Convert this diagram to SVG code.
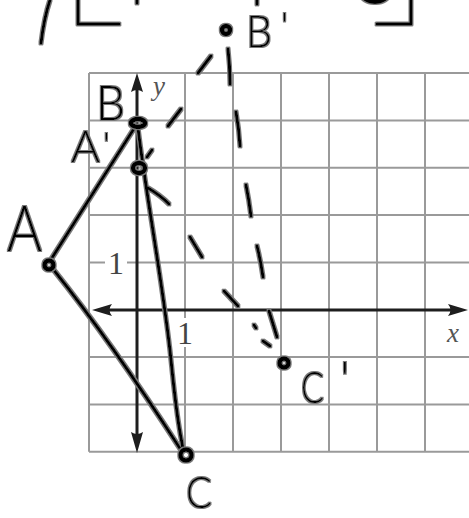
<svg xmlns="http://www.w3.org/2000/svg" width="469" height="518" viewBox="0 0 469 518">
<style>
.grid{stroke:#9a9a9a;stroke-width:2;fill:none}
.axis{stroke:#1e1e1e;stroke-width:3;fill:none}
.arrow{fill:#1e1e1e}
.ink{stroke:#000;stroke-width:3;fill:none;stroke-linecap:round;stroke-linejoin:round}
.dot{stroke:#000;stroke-width:4.5;fill:none}
.hand{font-family:"Lato","Open Sans","Liberation Sans",sans-serif;font-weight:300;fill:#000}
.num{font-family:"Liberation Serif","DejaVu Serif",serif;fill:#444;font-size:32px}
.var{font-family:"Liberation Serif","DejaVu Serif",serif;font-style:italic;fill:#555;font-size:27px}
.bg{fill:#fff}
</style>
<defs>
<filter id="halo" filterUnits="userSpaceOnUse" x="0" y="0" width="469" height="518">
<feMorphology in="SourceAlpha" operator="dilate" radius="1.3" result="d"/>
<feGaussianBlur in="d" stdDeviation="0.5" result="b"/>
<feFlood flood-color="#7a7a7a"/>
<feComposite in2="b" operator="in" result="g"/>
<feMerge><feMergeNode in="g"/><feMergeNode in="SourceGraphic"/></feMerge>
</filter>
</defs>
<rect width="469" height="518" fill="#fff"/>
<g id="grid">
<path class="grid" d="M89,73H469M89,120.4H469M89,167.7H469M89,215H469M89,262.4H469M89,357.1H469M89,404.5H469M89,451.8H469"/>
<path class="grid" d="M89,73V451.8M185,73V451.8M233,73V451.8M281,73V451.8M329,73V451.8M377,73V451.8M425,73V451.8"/>
</g>
<g id="axes">
<path class="axis" d="M100,310H458"/>
<path class="axis" d="M137,86V440"/>
<path class="arrow" d="M92,310L112,304Q107,310 112,316Z"/>
<path class="arrow" d="M468,310L448,304Q453,310 448,316Z"/>
<path class="arrow" d="M137,73L131,92Q137,88 143,92Z"/>
<path class="arrow" d="M137,453L131,432Q137,436 143,432Z"/>
<rect class="bg" x="177" y="318" width="16" height="29"/>
<text class="num" x="185" y="344" text-anchor="middle">1</text>
<rect class="bg" x="105" y="250" width="22" height="25"/>
<text class="num" x="116" y="274" text-anchor="middle">1</text>
<text class="var" x="153" y="95">y</text>
<text class="var" x="447" y="342">x</text>
</g>
<g id="top-scribble" filter="url(#halo)">
<path class="ink" d="M50,0Q44,18 41,43"/>
<path class="ink" d="M78,0V24H119"/>
<path class="ink" d="M137,0V3"/>
<path class="ink" d="M257,0V4"/>
<ellipse cx="375" cy="-6" rx="15" ry="10" fill="#000"/>
<path class="ink" d="M377,24H411V0"/>
</g>
<g id="connectors" filter="url(#halo)">
<path class="ink" d="M50,261L135,127"/>
<path class="ink" d="M53,269Q110,340 181,450"/>
<path class="ink" d="M138,128C146,195 164,290 171,360S180,430 183,449"/>
<path class="ink" d="M228,49Q230,66 230,84"/>
<path class="ink" d="M236,112Q239,129 240,146"/>
<path class="ink" d="M246,185Q249,200 251,216"/>
<path class="ink" d="M257,246Q261,262 263,277"/>
<path class="ink" d="M269,311L277,337"/>
<path class="ink" d="M211,56L198,73"/>
<path class="ink" d="M181,109L168,126"/>
<path class="ink" d="M147,157L152,150"/>
<path class="ink" d="M148,188Q160,195 169,204"/>
<path class="ink" d="M190,237L202,257"/>
<path class="ink" d="M224,291L238,306"/>
<path class="ink" d="M254,325L256,328"/>
<path class="ink" d="M263,341L270,346"/>
</g>
<g id="node-A" filter="url(#halo)">
<circle class="dot" cx="49" cy="265" r="4.5"/>
<text class="hand" x="7" y="251" font-size="64" textLength="35" lengthAdjust="spacingAndGlyphs">A</text>
</g>
<g id="node-B" filter="url(#halo)">
<ellipse class="dot" cx="138" cy="123" rx="7" ry="4"/>
<text class="hand" x="96" y="120" font-size="47" textLength="29" lengthAdjust="spacingAndGlyphs">B</text>
</g>
<g id="node-A-prime" filter="url(#halo)">
<ellipse class="dot" cx="139" cy="168" rx="6" ry="5"/>
<text class="hand"><tspan x="71" y="162" font-size="44" textLength="29" lengthAdjust="spacingAndGlyphs">A</tspan><tspan x="103" y="157" font-size="34">'</tspan></text>
</g>
<g id="node-B-prime" filter="url(#halo)">
<circle class="dot" cx="226" cy="30" r="4"/>
<text class="hand"><tspan x="246" y="47" font-size="44" textLength="26" lengthAdjust="spacingAndGlyphs">B</tspan><tspan x="281" y="38" font-size="36">'</tspan></text>
</g>
<g id="node-C" filter="url(#halo)">
<circle class="dot" cx="186" cy="455" r="5.5"/>
<text class="hand" x="186" y="508" font-size="44" textLength="26" lengthAdjust="spacingAndGlyphs">C</text>
</g>
<g id="node-C-prime" filter="url(#halo)">
<circle class="dot" cx="284" cy="363" r="4.5"/>
<text class="hand"><tspan x="301" y="403" font-size="43" textLength="23" lengthAdjust="spacingAndGlyphs">C</tspan><tspan x="340" y="397" font-size="50">'</tspan></text>
</g>
</svg>
